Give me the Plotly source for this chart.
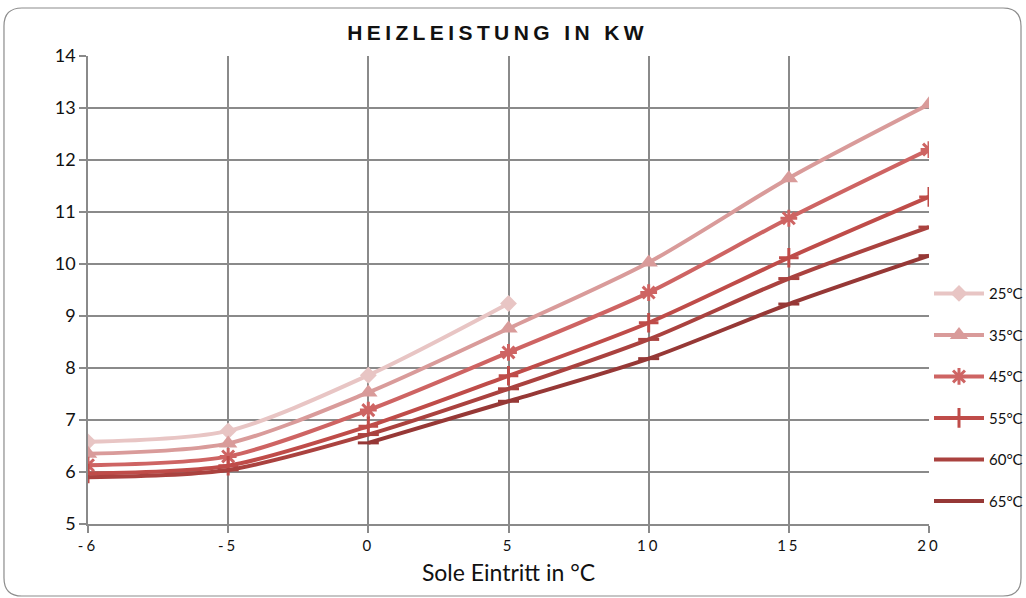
import plotly.graph_objects as go

categories = ["-6", "-5", "0", "5", "10", "15", "20"]
series_names = ["25°C", "35°C", "45°C", "55°C", "60°C", "65°C"]
s25 = [6.58, 6.79, 7.86, 9.24, None, None, None]
s35 = [6.35, 6.55, 7.53, 8.76, 10.03, 11.65, 13.07]
s45 = [6.13, 6.30, 7.19, 8.30, 9.45, 10.88, 12.20]
s55 = [5.97, 6.12, 6.88, 7.85, 8.87, 10.12, 11.29]
s60 = [5.90, 6.04, 6.72, 7.60, 8.55, 9.72, 10.71]
s65 = [None, None, 6.56, 7.36, 8.18, 9.23, 10.16]
y_ticks = [5, 6, 7, 8, 9, 10, 11, 12, 13, 14]

values = [s25, s35, s45, s55, s60, s65]
colors = ["#E8C5C4", "#D99B9A", "#CE6463", "#BF4C49", "#AA423F", "#963836"]
symbols = ["diamond", "triangle-up", "asterisk-open", "cross-thin-open", "line-ew-open", "line-ew-open"]
msizes = [13, 16, 14, 14, 15, 15]

fig = go.Figure()
for i, (name, vals) in enumerate(zip(series_names, values)):
    fig.add_trace(go.Scatter(
        x=categories, y=vals, name=name, mode="lines+markers",
        line=dict(color=colors[i], width=4, shape="spline", smoothing=0.8),
        marker=dict(symbol=symbols[i], size=msizes[i], color=colors[i],
                    line=dict(color=colors[i], width=3 if "open" in symbols[i] else 0)),
        legendgroup=name, connectgaps=False,
    ))

# outer rounded border
L, R, T, B = -0.0999, 1.1094, 1.1026, -0.1538
dx, dy = 0.0214, 0.0385
path = (f"M {L+dx},{T} L {R-dx},{T} Q {R},{T} {R},{T-dy} "
        f"L {R},{B+dy} Q {R},{B} {R-dx},{B} "
        f"L {L+dx},{B} Q {L},{B} {L},{B+dy} "
        f"L {L},{T-dy} Q {L},{T} {L+dx},{T} Z")
fig.add_shape(type="path", xref="paper", yref="paper", path=path,
              line=dict(color="#8C8C8C", width=1.2), layer="below")

spaced = [f'<span style="letter-spacing:3px">{c}</span>' for c in categories]

fig.update_layout(
    width=1026, height=598,
    margin=dict(l=88, r=97, t=56, b=74, autoexpand=False),
    paper_bgcolor="white", plot_bgcolor="white",
    title=dict(text='<span style="letter-spacing:4.4px"><b>HEIZLEISTUNG IN KW</b></span>',
               x=0.485, xanchor="center", y=0.945, yanchor="middle",
               font=dict(family="Liberation Sans", size=21, color="#111111")),
    font=dict(family="Lato", color="#111111"),
    xaxis=dict(type="category", range=[0, 6], showgrid=True, gridcolor="#8A8A8A",
               gridwidth=1.5, ticks="outside", ticklen=7, tickcolor="#8A8A8A",
               tickwidth=1.5, showline=True, linecolor="#8A8A8A", linewidth=1.5,
               tickvals=categories, ticktext=spaced,
               tickfont=dict(size=15, family="Lato"),
               title=dict(text="Sole Eintritt in °C", font=dict(size=23, family="Lato"),
                          standoff=12)),
    yaxis=dict(range=[5, 14], tickvals=y_ticks, showgrid=True, gridcolor="#8A8A8A",
               gridwidth=1.5, ticks="outside", ticklen=7, tickcolor="#8A8A8A",
               tickwidth=1.5, showline=True, linecolor="#8A8A8A", linewidth=1.5,
               tickfont=dict(size=18, family="Lato"), zeroline=False),
    legend=dict(x=1.0, y=0.271, xanchor="left", yanchor="middle",
                font=dict(size=15, family="Lato"), tracegroupgap=19,
                itemwidth=50, bgcolor="rgba(0,0,0,0)"),
    showlegend=True,
)

fig.write_html("out.html", config={"displayModeBar": False},
               post_script="document.body.style.margin='0';document.body.style.overflow='hidden';")
